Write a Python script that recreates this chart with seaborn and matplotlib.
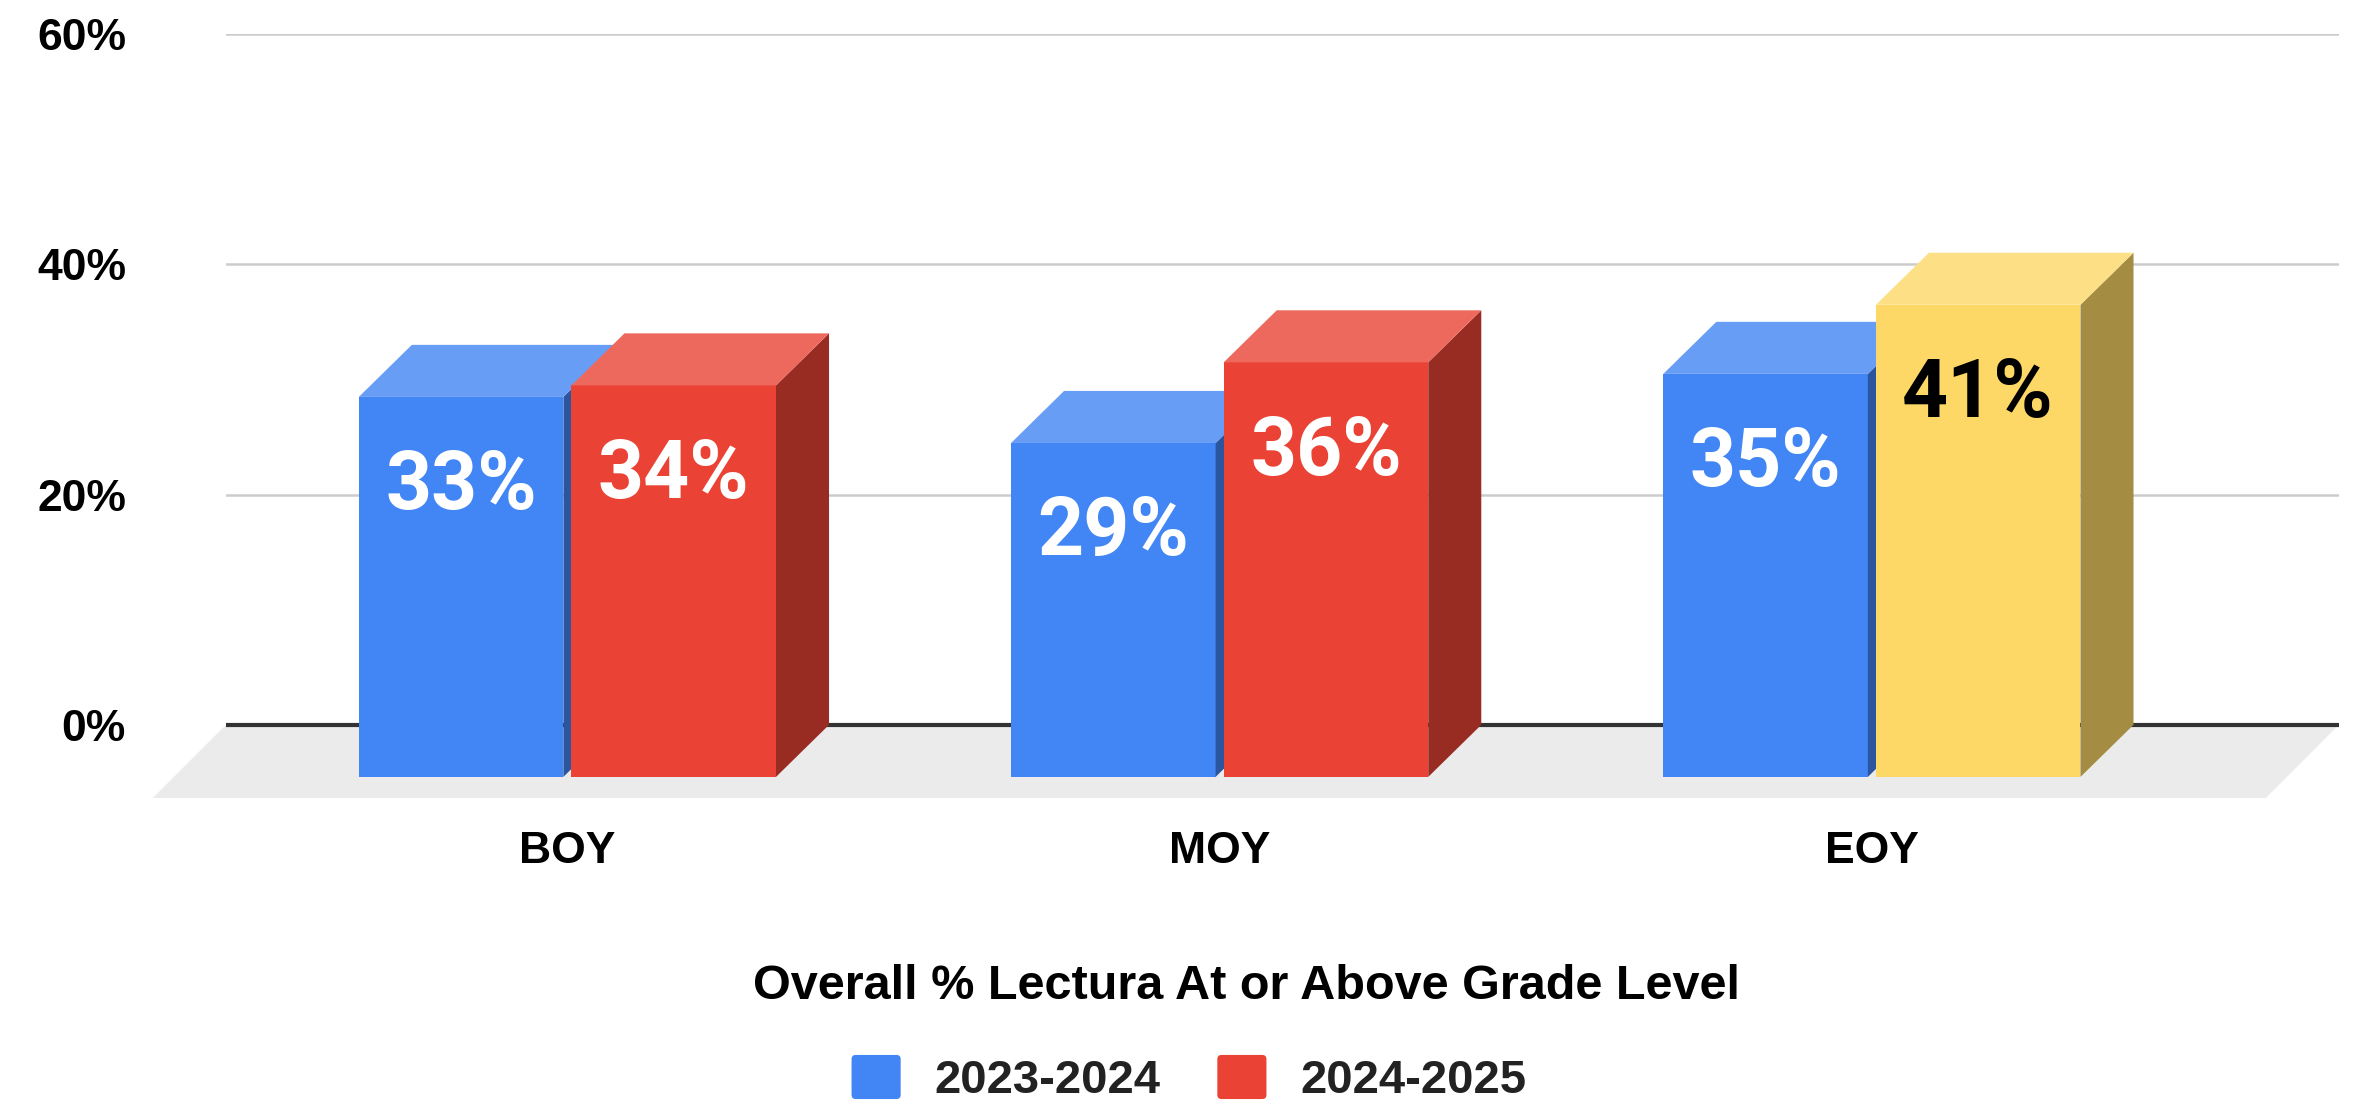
import matplotlib
matplotlib.use('Agg')
import matplotlib.pyplot as plt
from matplotlib.colors import to_rgb
from matplotlib.patches import Polygon, Patch, FancyBboxPatch
from matplotlib.legend_handler import HandlerPatch
import pandas as pd
import seaborn as sns

# chart values
periods = ['BOY', 'MOY', 'EOY']
years = ['2023-2024', '2024-2025']
pct_2023_2024 = [33, 29, 35]
pct_2024_2025 = [34, 36, 41]
highlight = ('EOY', '2024-2025')   # this one bar is drawn yellow

df = pd.DataFrame({
    'period': periods * 2,
    'year': [years[0]] * 3 + [years[1]] * 3,
    'pct': pct_2023_2024 + pct_2024_2025,
})

colors = {'2023-2024': '#4285f4', '2024-2025': '#ea4335'}
highlight_color = '#fdd866'


def shade(c, f=0.65):
    r, g, b = to_rgb(c)
    return (r * f, g * f, b * f)


def tint(c, f=0.2):
    r, g, b = to_rgb(c)
    return (r + (1 - r) * f, g + (1 - g) * f, b + (1 - b) * f)


def rounded_swatch(legend, orig_handle, xdescent, ydescent, width, height, fontsize):
    return FancyBboxPatch((-xdescent, -ydescent), width, height,
                          boxstyle='round,pad=0,rounding_size=3')


sns.set_theme(style='white')
plt.rcParams['font.family'] = ['Liberation Sans', 'DejaVu Sans']

fig = plt.figure(figsize=(23.63, 11.06), dpi=100)
ax = fig.add_axes([0.0956, 0.2785, 0.8942, 0.6908])

sns.barplot(data=df, x='period', y='pct', hue='year', order=periods,
            hue_order=years, palette=colors, saturation=1, errorbar=None,
            width=0.652, gap=0.038, legend=False, ax=ax)

ax.set_xlim(-0.5236, 2.716)
ax.set_ylim(-6.35, 60)

# fake 3d depth (oblique projection), in data units
ddx, ddy = 0.0813, 4.52
fdx, fdy = 0.112, 6.35

x0, x1 = ax.get_xlim()
floor = Polygon([(x0, 0), (x1, 0), (x1 - fdx, -fdy), (x0 - fdx, -fdy)],
                closed=True, facecolor='#ebebeb', edgecolor='none',
                zorder=0.3, clip_on=False)
ax.add_patch(floor)
ax.axhline(0, color='#333333', lw=3, zorder=1)

for k, (year, cont) in enumerate(zip(years, ax.containers)):
    z = 3 + k
    for period, bar in zip(periods, cont):
        base = colors[year]
        txt_color = 'white'
        if (period, year) == highlight:
            base = highlight_color
            txt_color = 'black'
        x, w, h = bar.get_x(), bar.get_width(), bar.get_height()
        bar.set_y(-ddy)
        bar.set_facecolor(base)
        bar.set_edgecolor('none')
        bar.set_zorder(z)
        bar.set_clip_on(False)
        top = h - ddy
        side = Polygon([(x + w, -ddy), (x + w + ddx, 0), (x + w + ddx, h), (x + w, top)],
                       closed=True, facecolor=shade(base), edgecolor='none', zorder=z)
        lid = Polygon([(x, top), (x + w, top), (x + w + ddx, h), (x + ddx, h)],
                      closed=True, facecolor=tint(base), edgecolor='none', zorder=z)
        ax.add_patch(side)
        ax.add_patch(lid)
        ax.text(x + w / 2, top - 7.85, f'{h:.0f}%', ha='center', va='center',
                fontsize=58, fontweight='bold', color=txt_color,
                family='Roboto', zorder=6)

ax.set_yticks([0, 20, 40, 60])
ax.set_yticklabels(['0%', '20%', '40%', '60%'])
ax.grid(axis='y', color='#cccccc', lw=1.8)
ax.grid(axis='x', visible=False)
ax.set_axisbelow(True)
for s in ax.spines.values():
    s.set_visible(False)
ax.tick_params(axis='y', length=0, pad=72, labelsize=32, labelcolor='black')
ax.tick_params(axis='x', length=0, pad=24, labelsize=32, labelcolor='black')
for lab in ax.get_xticklabels() + ax.get_yticklabels():
    lab.set_fontweight('bold')

ax.set_ylabel('')
ax.set_xlabel('Overall % Lectura At or Above Grade Level', fontsize=35,
              fontweight='bold', color='black')
ax.xaxis.set_label_coords(0.4832, -0.2474)
ax.xaxis.label.set_va('center')

handles = [Patch(facecolor=colors[y], edgecolor='none') for y in years]
fig.legend(handles, years, loc='center', bbox_to_anchor=(0.5032, 0.0244), ncol=2,
           frameon=False, prop={'size': 34, 'weight': 'bold'}, handlelength=1.04,
           handleheight=1.06, handletextpad=0.72, columnspacing=1.2,
           labelcolor='#222222',
           handler_map={Patch: HandlerPatch(patch_func=rounded_swatch)})

fig.savefig('out.png', dpi=100)
